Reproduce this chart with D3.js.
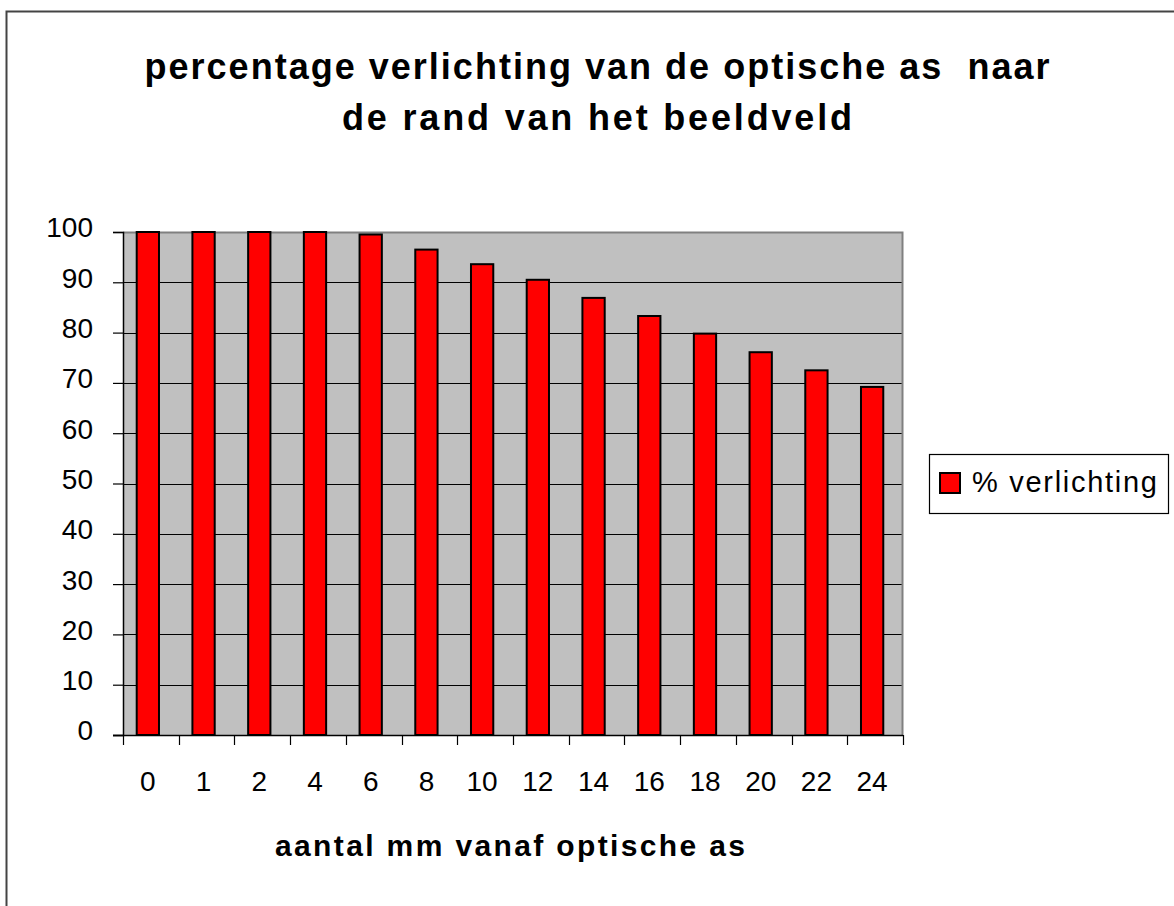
<!DOCTYPE html>
<html>
<head>
<meta charset="utf-8">
<script src="https://cdn.jsdelivr.net/npm/d3@7"></script>
<style>
  body { margin: 0; background: #fff; }
  text { font-family: "Liberation Sans", Arial, sans-serif; }
</style>
</head>
<body>
<div id="chart"></div>
<script>
// data
var categories = ["0", "1", "2", "4", "6", "8", "10", "12", "14", "16", "18", "20", "22", "24"];
var verlichting = [100, 100, 100, 100, 99.5, 96.5, 93.6, 90.5, 86.9, 83.3, 79.8, 76.1, 72.5, 69.2];
var yTicks = [0, 10, 20, 30, 40, 50, 60, 70, 80, 90, 100];
var titleLines = ["percentage verlichting van de optische as  naar", "de rand van het beeldveld"];
var xTitle = "aantal mm vanaf optische as";
var seriesName = "% verlichting";

function init(){

    var w = 1174;
    var h = 906;

    // plot area
    var left = 123, right = 903, top = 232, bottom = 735;

    var svg = d3.select("#chart")
                .append("svg")
                .attr("width", w)
                .attr("height", h);

    // outer frame (only top and left visible)
    svg.append("path")
        .attr("d", "M6.5," + h + " V11.5 H" + w)
        .attr("fill", "none")
        .attr("stroke", "#444")
        .attr("stroke-width", 2);

    // title, stretched to the width it has in the picture
    var titleWidths = [905, 510];
    svg.selectAll(".title")
        .data(titleLines)
        .enter()
        .append("text")
        .attr("class", "title")
        .attr("x", 597)
        .attr("y", function(d, i) { return 79 + i * 51; })
        .attr("text-anchor", "middle")
        .attr("font-size", "36px")
        .attr("font-weight", "bold")
        .attr("textLength", function(d, i) { return titleWidths[i]; })
        .attr("lengthAdjust", "spacing")
        .style("white-space", "pre") // keep the double space before "naar"
        .text(function(d) { return d; });

    var x = d3.scaleBand()
        .domain(categories)
        .range([left, right])
        .paddingInner(0.6)
        .paddingOuter(0.3)
        .align(0.41);

    var y = d3.scaleLinear()
        .domain([0, 100])
        .range([bottom, top]);

    // grey background
    svg.append("rect")
        .attr("x", left)
        .attr("y", top)
        .attr("width", right - left)
        .attr("height", bottom - top)
        .attr("fill", "#c0c0c0");

    // gridlines
    svg.selectAll(".grid")
        .data(yTicks.filter(function(d) { return d > 0 && d < 100; }))
        .enter()
        .append("line")
        .attr("x1", left)
        .attr("x2", right)
        .attr("y1", function(d) { return Math.round(y(d)) + 0.5; })
        .attr("y2", function(d) { return Math.round(y(d)) + 0.5; })
        .attr("stroke", "#000")
        .attr("stroke-width", 1.2);

    // plot border top/right in grey
    svg.append("path")
        .attr("d", "M" + left + "," + (top + 0.5) + " H" + (right - 0.5) + " V" + bottom)
        .attr("fill", "none")
        .attr("stroke", "#808080")
        .attr("stroke-width", 2);

    // bars
    svg.selectAll(".bar")
        .data(verlichting)
        .enter()
        .append("rect")
        .attr("class", "bar")
        .attr("x", function(d, i) { return x(categories[i]); })
        .attr("y", function(d) { return y(d); })
        .attr("width", x.bandwidth())
        .attr("height", function(d) { return bottom - y(d); })
        .attr("fill", "#ff0000")
        .attr("stroke", "#000")
        .attr("stroke-width", 2);

    // y axis
    var yAxis = d3.axisLeft(y)
        .tickValues(yTicks)
        .tickSize(10)
        .tickPadding(20);

    var gy = svg.append("g")
        .attr("transform", "translate(" + left + ",0)")
        .call(yAxis);
    gy.select(".domain").attr("stroke", "#000").attr("stroke-width", 1.5);
    gy.selectAll(".tick line").attr("stroke", "#000").attr("stroke-width", 1.2);
    gy.selectAll(".tick text")
        .attr("font-size", "28px")
        .attr("font-family", "Liberation Sans, Arial, sans-serif")
        .attr("fill", "#000")
        .attr("y", -4);

    // x axis: ticks between categories
    var step = x.step();
    var boundaries = d3.range(categories.length + 1).map(function(i) {
        return left + i * step;
    });

    svg.append("line")
        .attr("x1", left - 10)
        .attr("x2", right)
        .attr("y1", bottom + 0.5)
        .attr("y2", bottom + 0.5)
        .attr("stroke", "#000")
        .attr("stroke-width", 1.5);

    svg.selectAll(".xtick")
        .data(boundaries)
        .enter()
        .append("line")
        .attr("x1", function(d) { return Math.round(d) + 0.5; })
        .attr("x2", function(d) { return Math.round(d) + 0.5; })
        .attr("y1", bottom)
        .attr("y2", bottom + 10)
        .attr("stroke", "#000")
        .attr("stroke-width", 1.2);

    svg.selectAll(".xlabel")
        .data(categories)
        .enter()
        .append("text")
        .attr("x", function(d) { return x(d) + x.bandwidth() / 2; })
        .attr("y", 791)
        .attr("text-anchor", "middle")
        .attr("font-size", "28px")
        .text(function(d) { return d; });

    // x axis title
    svg.append("text")
        .attr("x", 510)
        .attr("y", 856)
        .attr("text-anchor", "middle")
        .attr("font-size", "30px")
        .attr("font-weight", "bold")
        .attr("textLength", 470)
        .attr("lengthAdjust", "spacing")
        .text(xTitle);

    // legend
    var lg = svg.append("g");
    lg.append("rect")
        .attr("x", 929.5)
        .attr("y", 454.5)
        .attr("width", 239)
        .attr("height", 59)
        .attr("fill", "#fff")
        .attr("stroke", "#000")
        .attr("stroke-width", 1.2);
    lg.append("rect")
        .attr("x", 940)
        .attr("y", 473)
        .attr("width", 20)
        .attr("height", 20)
        .attr("fill", "#ff0000")
        .attr("stroke", "#000")
        .attr("stroke-width", 2);
    lg.append("text")
        .attr("x", 972)
        .attr("y", 492)
        .attr("font-size", "29px")
        .attr("textLength", 185)
        .attr("lengthAdjust", "spacing")
        .text(seriesName);
}

window.onload = init;
</script>
</body>
</html>
